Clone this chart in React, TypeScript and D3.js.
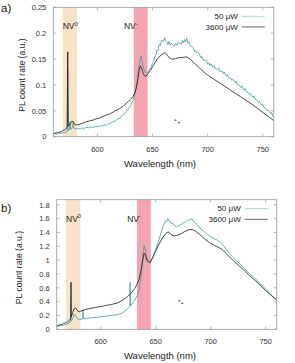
import * as d3 from 'd3'

// Wavelength axis, shared by both panels
const xDomain = [560, 760]
const xTicks = [600, 650, 700, 750]

// Shaded zero-phonon-line regions (nm)
const nv0Band = [568.5, 581.5]
const nvMinusBand = [633, 645.5]

const legendLabels = ['50 μW', '3600 μW']

// Panel a) y ticks
const yTicksA = [0, 0.05, 0.1, 0.15, 0.2, 0.25]

// Panel a) 50 µW spectrum [nm, rate]
const lowPowerA: [number, number][] = [
  [560, 0.005], [562, 0.006], [564, 0.005], [566, 0.007], [568, 0.007], [570, 0.008],
  [572, 0.009], [572.6, 0.01], [573.0, 0.133], [573.4, 0.011], [574.5, 0.013], [575.3, 0.029],
  [575.7, 0.014], [577, 0.016], [578.3, 0.03], [578.7, 0.016], [580, 0.015], [582, 0.016],
  [584, 0.015], [586, 0.017], [588, 0.016], [590, 0.018], [592, 0.017], [594, 0.019],
  [596, 0.018], [598, 0.02], [600, 0.019], [602, 0.021], [604, 0.02], [606, 0.023],
  [608, 0.022], [610, 0.025], [612, 0.026], [614, 0.029], [616, 0.03], [618, 0.034],
  [620, 0.035], [622, 0.04], [624, 0.043], [626, 0.048], [628, 0.053], [630, 0.06],
  [632, 0.068], [634, 0.082], [636, 0.105], [637, 0.125], [638, 0.142], [639, 0.152],
  [639.6, 0.156], [640.5, 0.146], [642, 0.131], [643.5, 0.124], [645, 0.122], [647, 0.129],
  [648, 0.133], [649, 0.135], [650, 0.143], [651, 0.145], [652, 0.155], [653, 0.157],
  [654, 0.167], [655, 0.166], [656, 0.178], [657, 0.176], [658, 0.186], [659, 0.185],
  [660, 0.184], [661, 0.191], [662, 0.185], [663, 0.183], [664, 0.178], [665, 0.184],
  [666, 0.177], [667, 0.181], [669, 0.176], [670, 0.175], [671, 0.18],
  [672, 0.176], [673, 0.182], [675, 0.18], [676, 0.179], [677, 0.186],
  [678, 0.181], [679, 0.188], [680, 0.183], [681, 0.19], [682, 0.181], [683, 0.184],
  [684, 0.176], [686, 0.174], [687, 0.172], [688, 0.165], [689, 0.167],
  [690, 0.161], [691, 0.163], [693, 0.157], [694, 0.152], [695, 0.155],
  [696, 0.148], [698, 0.147], [699, 0.147], [700, 0.14], [701, 0.143], [702, 0.137],
  [703, 0.141], [705, 0.134], [706, 0.137], [707, 0.131], [709, 0.13], [710, 0.133],
  [711, 0.126], [713, 0.127], [714, 0.122], [715, 0.125], [717, 0.117], [718, 0.12],
  [719, 0.114], [721, 0.113], [722, 0.109], [723, 0.111], [725, 0.104], [726, 0.107],
  [727, 0.1], [729, 0.099], [730, 0.095], [731, 0.098], [733, 0.09], [734, 0.093],
  [735, 0.087], [737, 0.085], [738, 0.081], [739, 0.083], [741, 0.076], [742, 0.079],
  [743, 0.072], [745, 0.07], [746, 0.066], [747, 0.068], [749, 0.061], [750, 0.063],
  [751, 0.057], [753, 0.054], [754, 0.05], [755, 0.052], [757, 0.045], [758, 0.047],
  [759, 0.04], [760, 0.037],
]

// Panel a) 3600 µW spectrum [nm, rate]
const highPowerA: [number, number][] = [
  [560, 0.006], [562, 0.007], [564, 0.008], [566, 0.009], [568, 0.011], [570, 0.013],
  [572, 0.016], [572.6, 0.02], [573.1, 0.164], [573.6, 0.02], [574.5, 0.022], [576, 0.028],
  [577, 0.03], [578, 0.029], [579, 0.025], [580, 0.023], [582, 0.023], [584, 0.024],
  [586, 0.026], [588, 0.027], [590, 0.029], [592, 0.03], [594, 0.031], [596, 0.032],
  [598, 0.034], [600, 0.035], [602, 0.036], [604, 0.038], [606, 0.04], [608, 0.042],
  [610, 0.043], [612, 0.045], [614, 0.047], [616, 0.05], [618, 0.052], [620, 0.054],
  [622, 0.057], [624, 0.06], [626, 0.064], [628, 0.068], [630, 0.072], [632, 0.077],
  [634, 0.085], [635, 0.092], [636, 0.102], [637, 0.115], [638, 0.13], [639, 0.137],
  [640, 0.133], [641, 0.126], [642, 0.12], [643, 0.117], [644, 0.117], [645, 0.119],
  [646, 0.122], [648, 0.128], [650, 0.135], [652, 0.142], [654, 0.149], [656, 0.154],
  [658, 0.158], [660, 0.161], [661.5, 0.162], [663, 0.159], [665, 0.153], [667, 0.15],
  [669, 0.15], [671, 0.151], [673, 0.152], [675, 0.153], [677, 0.153], [679, 0.154],
  [681, 0.154], [683, 0.152], [685, 0.148], [687, 0.144], [689, 0.14], [691, 0.136],
  [693, 0.132], [695, 0.128], [697, 0.124], [700, 0.119], [705, 0.112], [710, 0.105],
  [715, 0.098], [720, 0.091], [725, 0.084], [730, 0.077], [735, 0.07], [740, 0.063],
  [745, 0.055], [750, 0.047], [755, 0.039], [760, 0.031],
]

// Panel a) stray marks
const strayA: [number, number][] = [[670.6, 0.032], [674, 0.027]]

// Panel b) y ticks
const yTicksB = [0, 0.2, 0.4, 0.6, 0.8, 1, 1.2, 1.4, 1.6, 1.8]

// Panel b) 50 µW spectrum [nm, rate]
const lowPowerB: [number, number][] = [
  [560, 0.04], [562, 0.05], [564, 0.055], [566, 0.06], [568, 0.07], [570, 0.08],
  [572, 0.1], [573.0, 0.2], [573.5, 0.12], [575, 0.17], [576, 0.22], [577, 0.2],
  [578, 0.17], [579.5, 0.15], [581, 0.14], [583.5, 0.15], [584, 0.27], [584.5, 0.15],
  [587, 0.16], [590, 0.165], [595, 0.17], [600, 0.18], [605, 0.19], [610, 0.2],
  [615, 0.21], [620, 0.24], [624, 0.29], [626.5, 0.33], [626.7, 0.68], [627, 0.34],
  [630, 0.4], [633, 0.48], [635, 0.58], [637, 0.8], [638.5, 1.1], [639.5, 1.21],
  [640.5, 1.15], [642, 1.03], [643.5, 0.98], [645, 0.96], [647, 1.03], [649, 1.12],
  [651, 1.2], [653, 1.3], [655, 1.4], [657, 1.5], [659, 1.57], [660, 1.56],
  [661, 1.6], [662, 1.57], [663, 1.56], [664, 1.53], [665, 1.54], [667, 1.5],
  [669, 1.48], [671, 1.5], [673, 1.51], [675, 1.54], [677, 1.55], [679, 1.58],
  [681, 1.58], [683, 1.6], [685, 1.55], [688, 1.51], [691, 1.45], [694, 1.41],
  [697, 1.37], [700, 1.34], [703, 1.31], [706, 1.29], [709, 1.25], [712, 1.2],
  [715, 1.14], [720, 1.04], [725, 0.97], [730, 0.89], [735, 0.81], [740, 0.74],
  [745, 0.66], [750, 0.58], [755, 0.5], [760, 0.42],
]

// Panel b) 3600 µW spectrum [nm, rate]
const highPowerB: [number, number][] = [
  [560, 0.05], [562, 0.06], [564, 0.07], [566, 0.08], [568, 0.095], [570, 0.11],
  [572, 0.14], [572.6, 0.16], [573.0, 0.68], [573.4, 0.18], [574.5, 0.24], [576, 0.3],
  [577, 0.31], [578, 0.29], [579.5, 0.26], [581, 0.255], [583, 0.27], [586, 0.285],
  [590, 0.3], [595, 0.315], [600, 0.33], [605, 0.345], [610, 0.36], [615, 0.38],
  [620, 0.42], [625, 0.48], [628, 0.53], [631, 0.59], [633, 0.65], [635, 0.73],
  [637, 0.88], [638.5, 1.03], [639.5, 1.1], [640.5, 1.08], [642, 1.0], [643.5, 0.97],
  [645, 0.97], [647, 1.03], [650, 1.13], [653, 1.23], [656, 1.32], [659, 1.38],
  [661.5, 1.41], [664, 1.37], [667, 1.35], [670, 1.36], [673, 1.38], [676, 1.41],
  [680, 1.44], [683, 1.445], [686, 1.42], [690, 1.37], [695, 1.3], [700, 1.24],
  [705, 1.2], [710, 1.16], [715, 1.08], [720, 1.0], [725, 0.93], [730, 0.86],
  [735, 0.78], [740, 0.71], [745, 0.64], [750, 0.56], [755, 0.49], [760, 0.42],
]

const strayB: [number, number][] = [[671.5, 0.413], [674.2, 0.376]]

const FONT = '"Liberation Sans", Arial, sans-serif'
const TEAL = '#3f9c9a'
const BLACK = '#1c1c1c'

type PanelProps = {
  tag: string
  top: number
  left: number
  right: number
  plotTop: number
  plotBottom: number
  yMax: number
  yTicks: number[]
  low: [number, number][]
  high: [number, number][]
  stray: [number, number][]
  yLabelX: number
}

function Panel({ tag, top, left, right, plotTop, plotBottom, yMax, yTicks, low, high, stray, yLabelX }: PanelProps) {
  const x = d3.scaleLinear().domain(xDomain).range([left, right])
  const y = d3.scaleLinear().domain([0, yMax]).range([plotBottom, plotTop])
  const line = d3.line<[number, number]>().x(d => x(d[0])).y(d => y(d[1]))
  const tickLen = 3

  return (
    <g>
      <text x={1} y={top + 12} fontSize={11.5} fontFamily={FONT} fill="#111">{tag}</text>

      {/* shaded bands */}
      <rect x={x(nv0Band[0])} y={plotTop} width={x(nv0Band[1]) - x(nv0Band[0])} height={plotBottom - plotTop} fill="#f8e3c8" />
      <rect x={x(nvMinusBand[0])} y={plotTop} width={x(nvMinusBand[1]) - x(nvMinusBand[0])} height={plotBottom - plotTop} fill="#f4a4b1" />

      <text x={x(nv0Band[0])} y={plotTop + 22} fontSize={8.5} fontFamily={FONT} fill="#222">
        NV<tspan dy={-3.5} fontSize={6}>0</tspan>
      </text>
      <text x={x(nvMinusBand[0]) + 4} y={plotTop + 22} fontSize={8.5} fontFamily={FONT} fill="#222" textAnchor="end">
        NV<tspan dy={-3.5} fontSize={6}>-</tspan>
      </text>

      {/* ticks */}
      {xTicks.map(t => (
        <g key={'x' + t}>
          <line x1={x(t)} x2={x(t)} y1={plotBottom} y2={plotBottom - tickLen} stroke="#999" strokeWidth={0.7} />
          <line x1={x(t)} x2={x(t)} y1={plotTop} y2={plotTop + tickLen} stroke="#999" strokeWidth={0.7} />
          <text x={x(t)} y={plotBottom + 15} fontSize={7.5} fontFamily={FONT} fill="#333" textAnchor="middle">{t}</text>
        </g>
      ))}
      {yTicks.map(t => (
        <g key={'y' + t}>
          <line x1={left} x2={left + tickLen} y1={y(t)} y2={y(t)} stroke="#999" strokeWidth={0.7} />
          <line x1={right} x2={right - tickLen} y1={y(t)} y2={y(t)} stroke="#999" strokeWidth={0.7} />
          <text x={left - 7} y={y(t) + 2.7} fontSize={7.5} fontFamily={FONT} fill="#333" textAnchor="end">{String(t)}</text>
        </g>
      ))}

      {/* spectra */}
      <path d={line(low) ?? ''} fill="none" stroke={TEAL} strokeWidth={0.8} />
      <path d={line(high) ?? ''} fill="none" stroke={BLACK} strokeWidth={0.8} />

      {stray.map((d, i) => (
        <rect key={i} x={x(d[0]) - 1} y={y(d[1]) - 0.5} width={2} height={1} fill="#333" />
      ))}

      <rect x={left} y={plotTop} width={right - left} height={plotBottom - plotTop} fill="none" stroke="#999" strokeWidth={0.8} />

      {/* legend */}
      {legendLabels.map((lab, i) => (
        <g key={lab}>
          <text x={right - 36} y={plotTop + 11.7 + i * 10.6} fontSize={8} fontFamily={FONT} fill="#222" textAnchor="end">{lab}</text>
          <line x1={right - 32} x2={right - 9} y1={plotTop + 9 + i * 10.6} y2={plotTop + 9 + i * 10.6}
            stroke={i === 0 ? '#a6d4d2' : '#666'} strokeWidth={1} />
        </g>
      ))}

      <text x={160} y={plotBottom + 30} fontSize={9.5} fontFamily={FONT} fill="#222" textAnchor="middle">Wavelength (nm)</text>
      <text transform={`translate(${yLabelX},${(plotTop + plotBottom) / 2 + 3}) rotate(-90)`} fontSize={8.6} fontFamily={FONT} fill="#222" textAnchor="middle">
        PL count rate (a.u.)
      </text>
    </g>
  )
}

export default function App() {
  return (
    <div style={{ position: 'absolute', left: 0, top: 0 }}>
      <svg width={295} height={363} style={{ display: 'block', background: '#fff' }}>
        <Panel tag="a)" top={0} left={53.3} right={273.8} plotTop={7.3} plotBottom={136.7} yMax={0.25}
          yTicks={yTicksA} low={lowPowerA} high={highPowerA} stray={strayA} yLabelX={25} />
        <Panel tag="b)" top={200} left={56.7} right={276.7} plotTop={199.7} plotBottom={329.3} yMax={1.874}
          yTicks={yTicksB} low={lowPowerB} high={highPowerB} stray={strayB} yLabelX={22} />
      </svg>
    </div>
  )
}
